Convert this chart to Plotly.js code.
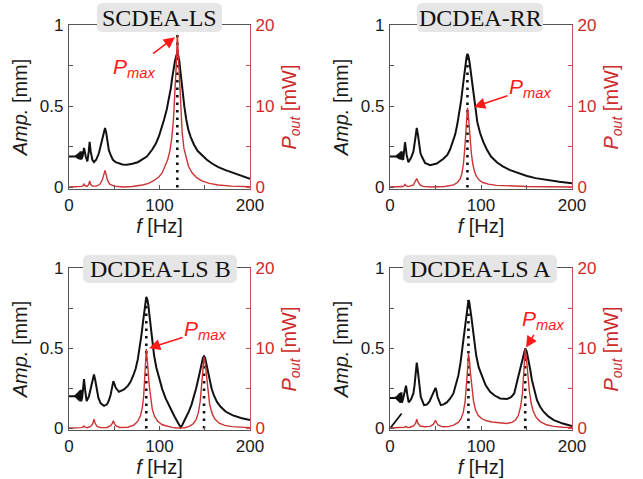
<!DOCTYPE html>
<html><head><meta charset="utf-8">
<script src="https://cdn.plot.ly/plotly-3.0.1.min.js"></script>
<style>html,body{margin:0;padding:0;background:#fff}#chart{width:643px;height:479px}</style>
</head><body><div id="chart"></div>
<script>
// ---------------- DATA ----------------
const panelTitles = ["SCDEA-LS", "DCDEA-RR", "DCDEA-LS B", "DCDEA-LS A"];
const xTickVals = [0, 100, 200];
const xTickText = ["0", "100", "200"];
const ampTickVals = [0, 0.5, 1];
const ampTickText = ["0", "0.5", "1"];
const powTickVals = [0, 10, 20];
const powTickText = ["0", "10", "20"];

// Panel 1: SCDEA-LS
const fA1 = [0,3,6,7,7.5,8,8.5,9,9.5,10,10.5,11,11.5,12,12.5,13,13.5,14,15,16.6,18.5,20.3,21.8,22.8,24,25.8,27.6,30,33,35,36.8,38.5,39.8,41,42.4,44,46,48.5,51.6,55,59,64,70,76,81,86,92,96,99.4,102,105,108,110.5,112.5,114,115.5,117,118.5,119.7,120.8,122,123.2,124.5,126,127.4,129.5,131.8,134.5,138,142,147,152,158,165,173,180,188,194,200];
const amp1 = [0.19,0.19,0.19,0.19,0.195,0.185,0.2,0.18,0.205,0.177,0.21,0.174,0.215,0.172,0.22,0.17,0.222,0.175,0.19,0.243,0.19,0.16,0.22,0.28,0.22,0.17,0.155,0.17,0.21,0.26,0.31,0.35,0.366,0.34,0.27,0.23,0.2,0.17,0.155,0.147,0.141,0.14,0.145,0.155,0.17,0.19,0.233,0.27,0.315,0.36,0.417,0.48,0.55,0.61,0.673,0.73,0.775,0.81,0.826,0.81,0.775,0.71,0.64,0.57,0.5,0.42,0.356,0.31,0.264,0.225,0.196,0.172,0.147,0.125,0.106,0.092,0.074,0.063,0.053];
const fP1 = [0,8,12,14,15.5,16.6,17.8,20.3,21.8,22.8,24,26,30,34,36.8,38.5,39.8,41,42.4,45,50,60,70,81,88,94,99.4,103,106,109,111.5,113.5,115.5,117,118.5,119.7,121,122.3,123.5,125,127,129.5,132,136,141,147,155,165,180,200];
const pout1 = [0.05,0.08,0.1,0.12,0.2,0.4,0.2,0.15,0.35,0.8,0.35,0.15,0.15,0.35,0.9,1.6,2.1,1.6,0.9,0.4,0.15,0.05,0.1,0.3,0.5,0.85,1.3,1.8,2.5,3.4,4.5,6,8.5,11.5,15,18.8,15.5,12,9,6.8,4.8,3.5,2.6,1.8,1.2,0.8,0.5,0.3,0.15,0.08];
const peakF1 = [119.7], peakTop1 = [0.94];

// Panel 2: DCDEA-RR
const fA2 = [0,3,6,6.5,7,7.5,8,8.5,9,9.5,10,10.5,11,11.5,12,12.5,13,13.5,14.5,16.5,18.3,20.2,23,25.7,27.8,29.4,30.8,32,33.5,35,38.5,44,51.4,58.7,63,66,69,71.6,74,76.3,78.3,80,81.6,83,84.2,85.1,86.1,87.3,88.8,90.3,92,93.6,96,99,102.5,106.4,111,117.4,124,132,141,150.5,160,172.5,186,200];
const amp2 = [0.19,0.19,0.19,0.19,0.195,0.185,0.2,0.18,0.205,0.177,0.21,0.174,0.215,0.172,0.22,0.17,0.222,0.175,0.17,0.278,0.2,0.155,0.18,0.22,0.3,0.366,0.32,0.25,0.21,0.19,0.15,0.137,0.147,0.176,0.2,0.233,0.28,0.325,0.39,0.458,0.54,0.62,0.7,0.765,0.805,0.822,0.81,0.775,0.71,0.63,0.55,0.479,0.4,0.335,0.28,0.233,0.19,0.155,0.13,0.106,0.087,0.07,0.057,0.045,0.034,0.025];
const fP2 = [0,10,14,15.5,16.5,17.5,20,25.7,28,29.4,30.8,33,36,45,60,70,74,77,79,80.8,82.3,83.5,84.4,85.1,85.9,86.8,88,89.3,90.8,92.5,94.7,98,102,108,117,132,150,175,200];
const pout2 = [0.05,0.07,0.1,0.2,0.35,0.2,0.1,0.3,0.7,1.1,0.7,0.3,0.12,0.05,0.1,0.3,0.6,1.0,1.7,3.0,5.0,7.2,9.0,9.8,9.2,7.8,6.0,4.3,3.0,2.1,1.4,0.9,0.6,0.4,0.25,0.15,0.1,0.07,0.05];
const peakF2 = [85.1], peakTop2 = [0.82];

// Panel 3: DCDEA-LS B
const fA3 = [0,3,6,6.5,7,7.5,8,8.5,9,9.5,10,10.5,11,11.5,12,12.5,13,13.5,14.5,16.6,18,19.5,22,24,26,27.6,29,30.6,32.5,35,38.7,42,44.2,46,47.5,49,50.3,51.6,55.2,60.8,65,68,71,73.7,76,78,80,81.8,83,84.2,85.4,86.5,87.7,89,90.6,92.2,94,96.5,99.4,103,106.8,110.5,114,117,119.7,121.8,123.4,125,127,129.8,132.6,135.5,138,140.5,143,145,146.6,148,149.2,150.4,151.7,153.5,155.4,157.5,160,163.5,167.6,173,180.5,190,200];
const amp3 = [0.2,0.2,0.2,0.2,0.206,0.194,0.212,0.188,0.218,0.182,0.224,0.176,0.23,0.172,0.236,0.168,0.24,0.17,0.19,0.307,0.23,0.17,0.2,0.25,0.3,0.336,0.3,0.24,0.19,0.156,0.141,0.15,0.176,0.21,0.25,0.295,0.275,0.253,0.228,0.243,0.265,0.29,0.33,0.373,0.43,0.498,0.58,0.664,0.72,0.778,0.82,0.805,0.768,0.7,0.622,0.54,0.456,0.38,0.311,0.245,0.187,0.14,0.104,0.07,0.041,0.02,0.006,0.02,0.041,0.075,0.108,0.15,0.197,0.25,0.311,0.37,0.415,0.44,0.45,0.44,0.405,0.35,0.3,0.25,0.207,0.165,0.135,0.105,0.083,0.065,0.052];
const fP3 = [0,10,14,15.5,16.6,17.8,20,24,26.3,27.6,29,31,35,42,46,48,49,50.2,52,56,65,72,76,79,81,82.5,83.8,84.7,85.4,86.2,87.2,88.5,90,92,94.5,98,103,109,114,119,123.4,128,132.6,137,140.5,143,145,146.7,148,149.2,150.4,151.7,153.3,155.4,158,161,166,172,180,190,200];
const pout3 = [0.05,0.07,0.1,0.18,0.3,0.15,0.08,0.25,0.6,1.15,0.6,0.25,0.1,0.12,0.35,0.65,0.95,0.6,0.3,0.12,0.15,0.45,0.9,1.6,2.6,4.0,6.0,8.4,9.9,9.2,7.6,5.5,3.8,2.4,1.5,0.9,0.45,0.22,0.12,0.05,0.02,0.08,0.25,0.55,1.1,2.0,3.4,5.3,7.3,8.9,8.2,6.6,4.6,3.0,1.9,1.2,0.65,0.38,0.22,0.14,0.1];
const peakF3 = [85.4, 149.2], peakTop3 = [0.82, 0.45];

// Panel 4: DCDEA-LS A
const fA4 = [0,3,5.5,6,6.5,7,7.5,8,8.5,9,9.5,10,10.5,11,11.5,12,12.5,13,14,15.5,17.6,19,20.5,23,25.7,27,28.3,29.4,30.4,31.5,33.8,37.4,40.5,43.3,46,47.7,50,51,52.2,55.8,59,62.4,66,69.7,73,75.2,77.5,79.3,81,82.6,83.8,84.8,86.2,87.2,88.2,89.5,91,92.7,94.7,97.5,101,105,110,115,121,128.5,133,136.5,140,142.5,145,146.8,148.6,150.2,152,154,156,158.5,161.5,165,168.8,174,180,190,200];
const amp4 = [0.19,0.19,0.19,0.19,0.196,0.184,0.2,0.178,0.206,0.172,0.212,0.166,0.218,0.16,0.222,0.158,0.225,0.16,0.176,0.21,0.266,0.21,0.162,0.18,0.218,0.27,0.35,0.41,0.37,0.311,0.197,0.145,0.148,0.166,0.2,0.23,0.253,0.235,0.197,0.145,0.15,0.162,0.185,0.218,0.28,0.332,0.41,0.498,0.58,0.664,0.72,0.768,0.8,0.785,0.75,0.69,0.622,0.54,0.456,0.38,0.322,0.27,0.228,0.205,0.187,0.183,0.195,0.218,0.3,0.36,0.425,0.47,0.498,0.48,0.436,0.37,0.3,0.235,0.176,0.135,0.104,0.075,0.052,0.03,0.015];
const fP4 = [0,10,14,16,17.6,19,22,26,28.2,29.4,30.6,33,38,44,47.5,49,50,51.2,53,58,64,70,75,78,80.5,82.5,84,85.2,86.2,87.2,88.5,90,91.8,94,97,101,106,112,120,128.5,134,138,141,143.5,145.5,147.2,148.6,150,151.5,153.2,155.2,157.5,160.5,165,172,180,190,200];
const pout4 = [0.05,0.07,0.1,0.15,0.25,0.12,0.15,0.3,0.65,1.15,0.65,0.3,0.2,0.25,0.5,0.8,1.0,0.7,0.4,0.2,0.22,0.4,0.75,1.2,2.0,3.3,5.0,7.3,9.3,8.6,6.8,4.9,3.4,2.3,1.6,1.2,0.95,0.8,0.68,0.62,0.75,1.05,1.6,2.7,4.3,6.8,9.9,8.6,6.6,4.6,3.1,2.1,1.4,0.85,0.45,0.25,0.15,0.1];
const peakF4 = [86.2, 148.6], peakTop4 = [0.80, 0.50];
const seg4F = [0, 12.8], seg4A = [0, 0.093];

// Pmax arrow targets (frequency, power) per panel
const pmaxF = [117, 92.3, 88.4, 149.5];
const pmaxP = [18.5, 9.9, 10.0, 10.1];

// ---------------- STYLE / LAYOUT ----------------
const W = 643, H = 479;
const BLACK = '#111111', RED = '#cc3333', RED_TXT = '#cc2a2a', ARROW_RED = '#ff1a1a', AXIS_GRAY = '#555555';
const SANS = 'Liberation Sans, Arial, sans-serif';
const SERIF = 'Liberation Serif, Times New Roman, serif';

const panels = [
  {fA: fA1, amp: amp1, fP: fP1, pout: pout1, pk: peakF1, pkT: peakTop1},
  {fA: fA2, amp: amp2, fP: fP2, pout: pout2, pk: peakF2, pkT: peakTop2},
  {fA: fA3, amp: amp3, fP: fP3, pout: pout3, pk: peakF3, pkT: peakTop3},
  {fA: fA4, amp: amp4, fP: fP4, pout: pout4, pk: peakF4, pkT: peakTop4}
];
// pixel boxes [left, right, top, bottom]
const boxes = [[69, 250, 25, 189], [390, 572, 25, 189], [69, 250, 268, 430], [390, 572, 268, 430]];
const titleBoxes = [[159.5, 17.5, 125, 29], [480, 17.5, 126, 29], [160, 269, 154, 28], [480, 269, 154, 28]];
const arrowOff = [[-41, 31], [56, -19], [56, -18], [17, -27]];

const data = [];
const layout = {
  width: W, height: H, margin: {l: 0, r: 0, t: 0, b: 0},
  paper_bgcolor: '#fff', plot_bgcolor: 'rgba(0,0,0,0)', showlegend: false,
  font: {family: SANS, size: 17, color: '#1a1a1a'},
  annotations: [], shapes: []
};

function px2x(p) { return p / W; }
function px2y(p) { return 1 - p / H; }
function roundRect(cx, cy, w, h, r) {
  const x0 = cx - w / 2, x1 = cx + w / 2, y0 = cy - h / 2, y1 = cy + h / 2;
  const P = (x, y) => px2x(x).toFixed(5) + ',' + px2y(y).toFixed(5);
  return 'M' + P(x0 + r, y0) + ' L' + P(x1 - r, y0) + ' Q' + P(x1, y0) + ' ' + P(x1, y0 + r) +
    ' L' + P(x1, y1 - r) + ' Q' + P(x1, y1) + ' ' + P(x1 - r, y1) +
    ' L' + P(x0 + r, y1) + ' Q' + P(x0, y1) + ' ' + P(x0, y1 - r) +
    ' L' + P(x0, y0 + r) + ' Q' + P(x0, y0) + ' ' + P(x0 + r, y0) + ' Z';
}

panels.forEach((p, i) => {
  const n = i + 1;
  const xa = 'x' + (n === 1 ? '' : n);
  const yl = 'y' + (2 * n - 1 === 1 ? '' : 2 * n - 1);
  const yr = 'y' + (2 * n);
  const b = boxes[i];
  const xName = 'xaxis' + (n === 1 ? '' : n);
  const ylName = 'yaxis' + (2 * n - 1 === 1 ? '' : 2 * n - 1);
  const yrName = 'yaxis' + (2 * n);

  layout[xName] = {
    domain: [px2x(b[0]), px2x(b[1])], anchor: yl, range: [0, 200],
    tickvals: xTickVals, ticktext: xTickText, ticks: 'inside', ticklen: 4, tickwidth: 1,
    minor: {dtick: 50, tick0: 0, ticks: 'inside', ticklen: 4, tickwidth: 1, tickcolor: AXIS_GRAY},
    tickcolor: AXIS_GRAY, showline: true, linecolor: AXIS_GRAY, linewidth: 1.2, mirror: true,
    showgrid: false, zeroline: false, tickfont: {size: 17, color: '#1a1a1a'},
    title: {text: '<i>f</i> [Hz]', font: {size: 20, color: '#1a1a1a'}, standoff: 5}
  };
  layout[ylName] = {
    domain: [px2y(b[3]), px2y(b[2])], anchor: xa, range: [-0.01, 1],
    tickvals: ampTickVals, ticktext: ampTickText, ticks: 'inside', ticklen: 4, tickwidth: 1,
    minor: {dtick: 0.25, tick0: 0, ticks: 'inside', ticklen: 4, tickwidth: 1, tickcolor: AXIS_GRAY},
    tickcolor: AXIS_GRAY, showline: true, linecolor: AXIS_GRAY, linewidth: 1.2,
    showgrid: false, zeroline: false, tickfont: {size: 17, color: '#1a1a1a'}, ticklabelstandoff: 1,
    title: {text: '<i>Amp.</i> [mm]', font: {size: 20, color: '#1a1a1a'}, standoff: 6}
  };
  layout[yrName] = {
    overlaying: yl, side: 'right', anchor: xa, range: [-0.2, 20],
    tickvals: powTickVals, ticktext: powTickText, ticks: 'inside', ticklen: 4, tickwidth: 1,
    minor: {dtick: 5, tick0: 0, ticks: 'inside', ticklen: 4, tickwidth: 1, tickcolor: '#d05050'},
    tickcolor: '#d05050', showline: true, linecolor: '#d05050', linewidth: 1.2,
    showgrid: false, zeroline: false, tickfont: {size: 17, color: RED_TXT}, ticklabelstandoff: 1,
    title: {text: '<i>P<sub>out</sub></i> [mW]', font: {size: 20, color: RED_TXT}, standoff: 8}
  };

  data.push({type: 'scatter', mode: 'lines', x: p.fA, y: p.amp, xaxis: xa, yaxis: yl,
    line: {color: BLACK, width: 2}, hoverinfo: 'skip'});
  if (n === 4) {
    data.push({type: 'scatter', mode: 'lines', x: seg4F, y: seg4A, xaxis: xa, yaxis: yl,
      line: {color: BLACK, width: 1.8}, hoverinfo: 'skip'});
  }
  const dx = [], dy = [];
  p.pk.forEach((f, k) => { dx.push(f, f, null); dy.push(0, p.pkT[k], null); });
  data.push({type: 'scatter', mode: 'lines', x: dx, y: dy, xaxis: xa, yaxis: yl,
    line: {color: BLACK, width: 2.6, dash: '2.5px,5px'}, hoverinfo: 'skip'});
  data.push({type: 'scatter', mode: 'lines', x: p.fP, y: p.pout, xaxis: xa, yaxis: yr,
    line: {color: RED, width: 1.4}, hoverinfo: 'skip'});

  // title box
  const t = titleBoxes[i];
  layout.shapes.push({type: 'path', xref: 'paper', yref: 'paper', path: roundRect(t[0], t[1], t[2], t[3], 6),
    fillcolor: '#e6e6e6', line: {width: 0}, layer: 'above'});
  layout.annotations.push({xref: 'paper', yref: 'paper', x: px2x(t[0]), y: px2y(t[1]),
    xanchor: 'center', yanchor: 'middle', text: panelTitles[i], showarrow: false,
    font: {family: SERIF, size: 24, color: '#111'}});

  // Pmax arrow
  layout.annotations.push({xref: xa, yref: yr, x: pmaxF[i], y: pmaxP[i],
    ax: arrowOff[i][0], ay: arrowOff[i][1], text: '<i>P<sub>max</sub></i>',
    font: {family: SANS, size: 21, color: ARROW_RED}, showarrow: true,
    arrowhead: 2, arrowsize: 1.4, arrowwidth: 1.6, arrowcolor: ARROW_RED, standoff: 0, startstandoff: 0});
});

Plotly.newPlot('chart', data, layout, {staticPlot: true, displayModeBar: false});
</script>
</body></html>
